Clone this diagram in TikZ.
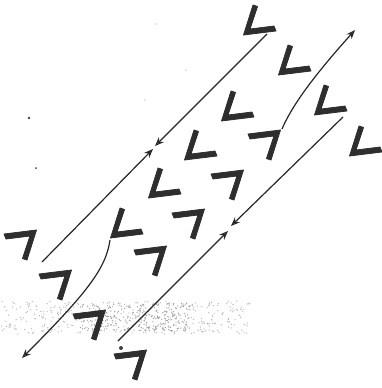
\documentclass[tikz,border=0pt]{standalone}
\usetikzlibrary{arrows.meta}
\tikzset{
    myarrow/.style = {
        line width=1.2pt,
        draw=black!85,
        -{Stealth[open, length=9pt, width=7pt]}
    },
    myspin/.style = {
        fill=black!82,
        draw=black!82,
        line width=0.8pt,
        line join=round
    },
    spinL/.pic = {
        \path [myspin] (-3.5,3) -- (6,-27) -- (10.5,-25.5) -- (3,-3)
            -- (27,-6) -- (29,-1) -- cycle;
    },
    mydot/.style = {fill=black!75}
}

\begin{document}
\begin{tikzpicture}[x=1pt, y=-1pt]
\useasboundingbox (0,0) rectangle (381,388);

% grey band
\pgfmathsetseed{17}
\foreach \k in {1,...,380} {
    \pgfmathsetmacro\px{rnd*250}
    \pgfmathsetmacro\py{301+rnd*33}
    \fill [black!28] (\px,\py) circle (0.7);
}
\foreach \k in {1,...,280} {
    \pgfmathsetmacro\px{80+rnd*110}
    \pgfmathsetmacro\py{303+rnd*28}
    \fill [black!38] (\px,\py) circle (0.7);
}

% spins pointing one way
\foreach \cx/\cy in {247/32, 282/72, 225/118, 318/112, 353/153,
                     188/157, 152/195, 114/235}
    \pic at (\cx,\cy) {spinL};

% spins pointing the other way
\foreach \cx/\cy in {277/133, 240/173, 201/212, 163/249,
                     33/233, 68/273, 102/313, 143/353}
    \pic [rotate=180] at (\cx,\cy) {spinL};

% end points of the arrows
\coordinate (a1) at (267,34);
\coordinate (a2) at (155,146);
\coordinate (b1) at (42,262);
\coordinate (b2) at (153,149);
\coordinate (c1) at (110,240);
\coordinate (c2) at (22,358);
\coordinate (d1) at (282,129);
\coordinate (d2) at (355,30);
\coordinate (e1) at (343,117);
\coordinate (e2) at (231,226);
\coordinate (f1) at (118,341);
\coordinate (f2) at (228,231);

% arrows
\draw [myarrow] (a1) -- (a2);
\draw [myarrow] (b1) -- (b2);
\draw [myarrow] (c1) .. controls (106,268) and (88,292) .. (c2);
\draw [myarrow] (d1) .. controls (291,108) and (310,80) .. (d2);
\draw [myarrow] (e1) -- (e2);
\draw [myarrow] (f1) -- (f2);

% stray dots
\fill [mydot] (121,348) circle (2);
\fill [mydot] (29,118) circle (1.3);
\fill [mydot] (36,168) circle (1);
\fill [black!40] (156,24) circle (0.6);
\fill [black!40] (186,70) circle (0.6);
\fill [black!40] (145,100) circle (0.6);

\end{tikzpicture}
\end{document}
